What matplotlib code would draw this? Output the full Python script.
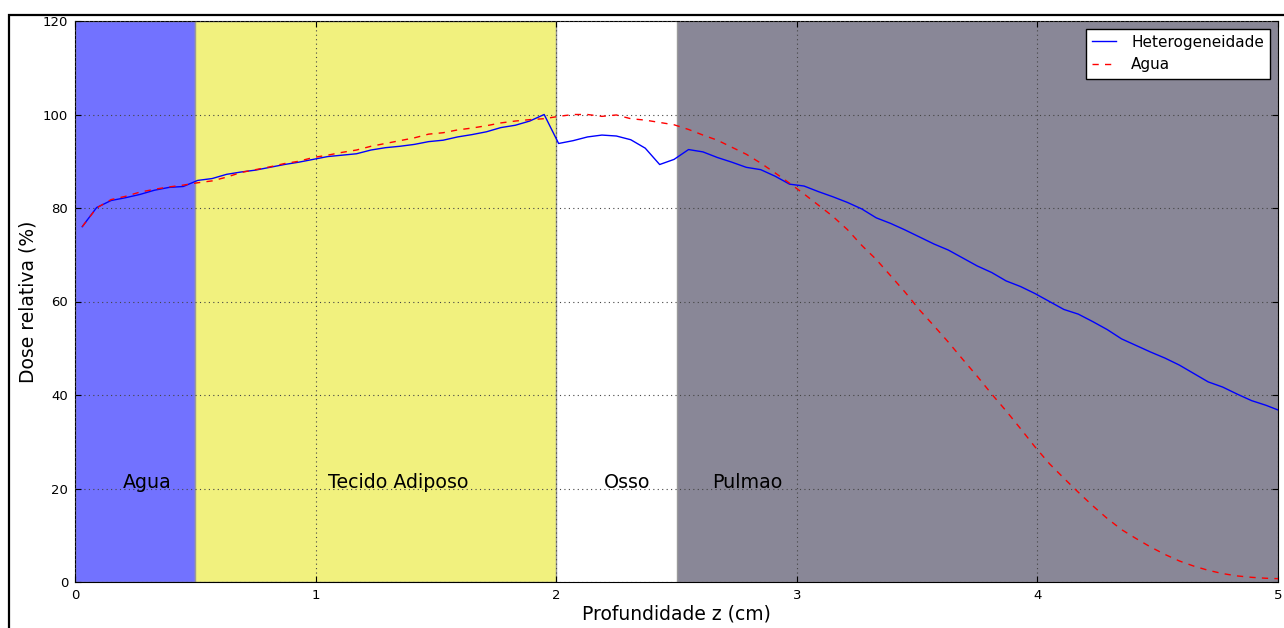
"""Percentage depth dose through a heterogeneous phantom vs. pure water."""
import numpy as np
import matplotlib

matplotlib.use("Agg")
import matplotlib.pyplot as plt
from matplotlib.patches import Rectangle

# depth grid (cm), bin centres every 0.06 cm
depth = np.linspace(0.03, 5.01, 84)

dose_het = [
    76.0, 80.1, 81.6, 82.2, 82.9, 83.8, 84.4, 84.6, 85.9, 86.3,
    87.2, 87.7, 88.1, 88.7, 89.3, 89.8, 90.4, 91.0, 91.3, 91.6,
    92.4, 92.9, 93.2, 93.6, 94.2, 94.5, 95.2, 95.7, 96.3, 97.2,
    97.7, 98.6, 100.0, 93.8, 94.4, 95.2, 95.6, 95.4, 94.6, 92.8,
    89.3, 90.4, 92.5, 92.0, 90.8, 89.8, 88.7, 88.2, 86.8, 85.1,
    84.7, 83.5, 82.4, 81.2, 79.8, 77.9, 76.7, 75.3, 73.8, 72.3,
    71.0, 69.3, 67.6, 66.2, 64.4, 63.2, 61.7, 60.0, 58.3, 57.3,
    55.7, 54.0, 52.0, 50.6, 49.2, 47.9, 46.4, 44.6, 42.8, 41.7,
    40.2, 38.8, 37.8, 36.6,
]

dose_water = [
    76.0, 80.0, 81.8, 82.5, 83.4, 84.0, 84.5, 84.9, 85.4, 85.8,
    86.6, 87.6, 88.2, 88.8, 89.5, 90.0, 90.8, 91.3, 91.9, 92.4,
    93.2, 93.8, 94.4, 95.0, 95.8, 96.1, 96.7, 97.1, 97.6, 98.2,
    98.6, 98.9, 99.1, 99.6, 100.0, 100.0, 99.6, 99.9, 99.1, 98.8,
    98.3, 97.8, 96.8, 95.6, 94.5, 93.0, 91.5, 89.6, 87.5, 85.3,
    83.0, 80.6, 78.2, 75.4, 72.0, 69.0, 65.5, 62.0, 58.2, 54.8,
    51.3, 47.6, 44.0, 40.2, 36.6, 32.8, 28.9, 25.3, 22.2, 19.2,
    16.3, 13.6, 11.2, 9.3, 7.5, 5.9, 4.5, 3.4, 2.5, 1.8,
    1.3, 1.0, 0.8, 0.7,
]

# material slabs
slab_edges = [0.0, 0.5, 2.0, 2.5, 5.0]
slab_names = ["Agua", "Tecido Adiposo", "Osso", "Pulmao"]
slab_colors = ["#7272FF", "#F1F17E", "#FFFFFF", "#898797"]
label_x = [0.2, 1.05, 2.2, 2.65]

plt.rcParams.update({"font.family": "DejaVu Sans",
                     "xtick.direction": "in", "ytick.direction": "in",
                     "xtick.top": True, "ytick.right": True})

fig = plt.figure(figsize=(12.84, 6.28), dpi=100)
ax = fig.add_axes([75 / 1284, 1 - 582 / 628, 1203 / 1284, 561 / 628])

for i, name in enumerate(slab_names):
    if slab_colors[i] != "#FFFFFF":
        ax.axvspan(slab_edges[i], slab_edges[i + 1], facecolor=slab_colors[i],
                   edgecolor="#9a9a9a", lw=1.0, zorder=0)
    ax.text(label_x[i], 20, name, fontsize=13.7)

ax.plot(depth, dose_het, color="#0000ff", lw=1.0, label="Heterogeneidade", zorder=3)
ax.plot(depth, dose_water, color="#ff0000", lw=1.0, ls=(0, (4.5, 4.5)),
        label="Agua", zorder=3)

ax.set_xlim(0, 5)
ax.set_ylim(0, 120)
ax.set_xticks(range(0, 6))
ax.set_yticks(range(0, 121, 20))
ax.tick_params(labelsize=9.5, length=4, width=0.8, pad=5)
ax.grid(True, color="#444444", ls=(0, (1, 3)), lw=0.8)
ax.set_axisbelow(False)
ax.set_xlabel("Profundidade z (cm)", fontsize=13.5, labelpad=2)
ax.set_ylabel("Dose relativa (%)", fontsize=13.5, labelpad=4)

leg = ax.legend(loc="upper right", fontsize=11, fancybox=False,
                framealpha=1, edgecolor="black", handlelength=1.6,
                handletextpad=1.0, borderaxespad=0.5)
leg.get_frame().set_linewidth(1.0)

# outer frame of the enclosing panel
fig.add_artist(Rectangle((9 / 1284, -0.2), 1.5, 1.2 - 15 / 628,
                         transform=fig.transFigure, fill=False,
                         lw=1.6, edgecolor="black", clip_on=False))

fig.savefig("out.png", dpi=100)
